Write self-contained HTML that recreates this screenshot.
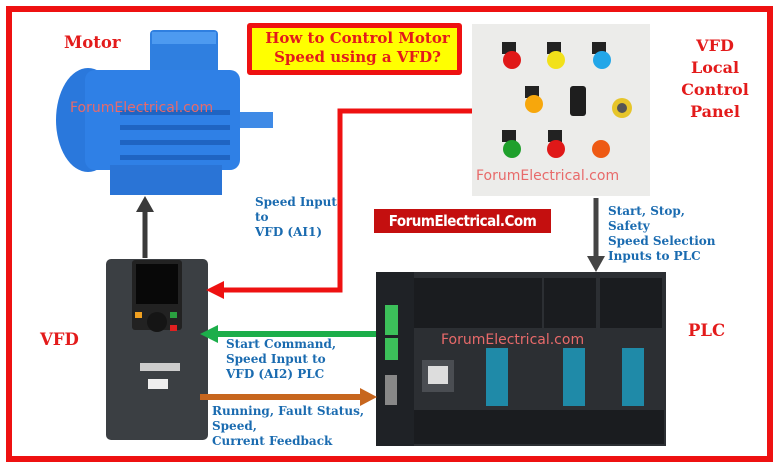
<!DOCTYPE html>
<html><head><meta charset="utf-8"><style>
body{margin:0;background:#fff;}
#c{position:relative;width:780px;height:469px;overflow:hidden;background:#fff;font-family:"DejaVu Serif","Liberation Serif",serif;}
.t{position:absolute;font-weight:bold;white-space:nowrap;}
.r{color:#e31b1b;font-size:16.5px;}
.b{color:#1a6bb0;font-size:12px;line-height:15px;}
.wm{position:absolute;font-family:"DejaVu Sans","Liberation Sans",sans-serif;color:#e86a6a;font-size:14px;}
</style></head><body><div id="c">
<svg width="780" height="469" style="position:absolute;left:0;top:0">
<rect x="9" y="9" width="761" height="450" fill="none" stroke="#ee1111" stroke-width="6"/>
<rect x="150" y="30" width="68" height="50" rx="4" fill="#2f7fe0"/>
<rect x="152" y="32" width="64" height="12" fill="#4d9af0"/>
<ellipse cx="88" cy="120" rx="32" ry="52" fill="#2a78dc"/>
<rect x="85" y="70" width="155" height="100" rx="10" fill="#2f80e6"/>
<g fill="#1f64c2"><rect x="120" y="110" width="110" height="5"/><rect x="120" y="125" width="110" height="5"/><rect x="120" y="140" width="110" height="5"/><rect x="120" y="155" width="110" height="5"/></g>
<rect x="240" y="112" width="33" height="16" fill="#3f8ae6"/>
<rect x="110" y="165" width="112" height="30" fill="#2a74d6"/>
<rect x="472" y="24" width="178" height="172" fill="#ececea"/>
<g><rect x="502" y="42" width="14" height="12" fill="#222"/><circle cx="512" cy="60" r="9" fill="#e01818"/>
<rect x="547" y="42" width="14" height="12" fill="#222"/><circle cx="556" cy="60" r="9" fill="#f2e11a"/>
<rect x="592" y="42" width="14" height="12" fill="#222"/><circle cx="602" cy="60" r="9" fill="#22a6e8"/>
<rect x="525" y="86" width="14" height="12" fill="#222"/><circle cx="534" cy="104" r="9" fill="#f7a70c"/>
<rect x="570" y="86" width="16" height="30" rx="3" fill="#1e1e1e"/>
<circle cx="622" cy="108" r="10" fill="#e6c52a"/><circle cx="622" cy="108" r="5" fill="#555"/>
<rect x="502" y="130" width="14" height="12" fill="#222"/><circle cx="512" cy="149" r="9" fill="#1fa02c"/>
<rect x="548" y="130" width="14" height="12" fill="#222"/><circle cx="556" cy="149" r="9" fill="#e01818"/>
<circle cx="601" cy="149" r="9" fill="#ee5a14"/></g>
<rect x="106" y="259" width="102" height="181" rx="5" fill="#3b3f43"/>
<rect x="132" y="260" width="50" height="70" rx="3" fill="#222"/>
<rect x="136" y="264" width="42" height="40" fill="#080808"/>
<circle cx="157" cy="322" r="10" fill="#151515"/>
<rect x="135" y="312" width="7" height="6" fill="#f0a020"/><rect x="170" y="312" width="7" height="6" fill="#2aa040"/><rect x="170" y="325" width="7" height="6" fill="#e02020"/>
<rect x="140" y="363" width="40" height="8" fill="#ccc"/><rect x="148" y="379" width="20" height="10" fill="#eee"/>
<rect x="376" y="272" width="290" height="174" fill="#2c2f33"/>
<rect x="376" y="272" width="38" height="174" fill="#1f2226"/>
<rect x="414" y="278" width="128" height="50" fill="#1a1c1f"/>
<rect x="544" y="278" width="52" height="50" fill="#1a1c1f"/>
<rect x="600" y="278" width="62" height="50" fill="#1a1c1f"/>
<rect x="414" y="410" width="250" height="34" fill="#1a1c1f"/>
<rect x="385" y="305" width="13" height="30" fill="#3cc05a"/><rect x="385" y="338" width="13" height="22" fill="#3cc05a"/>
<rect x="422" y="360" width="32" height="32" fill="#4a4d52"/><rect x="428" y="366" width="20" height="18" fill="#ddd"/>
<rect x="385" y="375" width="12" height="30" fill="#888"/>
<rect x="486" y="348" width="22" height="58" fill="#1f8aa8"/>
<rect x="563" y="348" width="22" height="58" fill="#1f8aa8"/>
<rect x="622" y="348" width="22" height="58" fill="#1f8aa8"/>
<polyline points="472,111 340,111 340,290 222,290" fill="none" stroke="#ee1111" stroke-width="5"/>
<polygon points="206,290 224,281 224,299" fill="#ee1111"/>
<line x1="145" y1="258" x2="145" y2="210" stroke="#3a3a3a" stroke-width="5"/>
<polygon points="145,196 136,212 154,212" fill="#3a3a3a"/>
<line x1="596" y1="198" x2="596" y2="258" stroke="#444" stroke-width="5"/>
<polygon points="596,272 587,256 605,256" fill="#444"/>
<line x1="376" y1="334" x2="216" y2="334" stroke="#1cae4a" stroke-width="6"/>
<polygon points="200,334 218,325 218,343" fill="#1cae4a"/>
<line x1="200" y1="397" x2="362" y2="397" stroke="#c7661e" stroke-width="6"/>
<polygon points="377,397 360,388 360,406" fill="#c7661e"/>
</svg>
<div style="position:absolute;left:247px;top:23px;width:205px;height:42px;border:5px solid #ee1111;border-radius:3px;background:#ffff00"></div>
<div class="t r" style="left:250px;top:29px;width:215px;text-align:center;font-size:15px;line-height:19px">How to Control Motor<br>Speed using a VFD?</div>
<div class="t r" style="left:64px;top:33px">Motor</div>
<div class="t r" style="left:670px;top:35px;width:90px;text-align:center;font-size:16px;line-height:22px">VFD<br>Local<br>Control<br>Panel</div>
<div class="t r" style="left:40px;top:330px">VFD</div>
<div class="t r" style="left:688px;top:321px">PLC</div>
<div style="position:absolute;left:374px;top:209px;width:177px;height:24px;background:#c40f0f"></div>
<div class="t" style="left:374px;top:212px;width:177px;text-align:center;color:#fff;font-family:'DejaVu Sans Condensed','Liberation Sans Narrow',sans-serif;font-size:15px;letter-spacing:-0.5px">ForumElectrical.Com</div>
<div class="t b" style="left:255px;top:195px">Speed Input<br>to<br>VFD (AI1)</div>
<div class="t b" style="left:608px;top:204px">Start, Stop,<br>Safety<br>Speed Selection<br>Inputs to PLC</div>
<div class="t b" style="left:226px;top:337px">Start Command,<br>Speed Input to<br>VFD (AI2) PLC</div>
<div class="t b" style="left:212px;top:404px">Running, Fault Status,<br>Speed,<br>Current Feedback</div>
<div class="wm" style="left:70px;top:100px">ForumElectrical.com</div>
<div class="wm" style="left:476px;top:168px">ForumElectrical.com</div>
<div class="wm" style="left:441px;top:332px">ForumElectrical.com</div>
</div></body></html>
